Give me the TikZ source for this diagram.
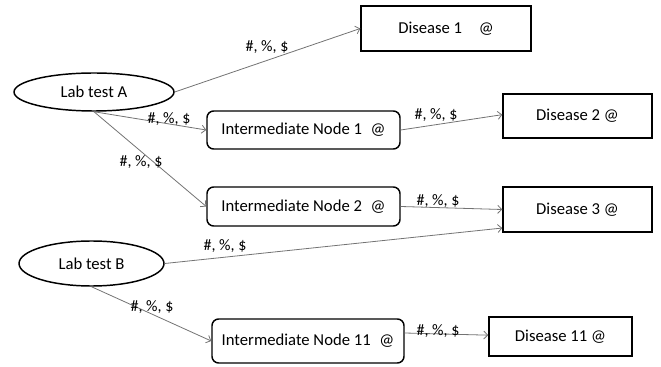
\documentclass[tikz,border=0pt]{standalone}
\usepackage{fontspec}
\setmainfont{Carlito}
\usetikzlibrary{shapes.geometric,arrows.meta}
\begin{document}
\begin{tikzpicture}[x=0.75pt,y=-0.75pt,
  every node/.style={font=\fontsize{12.5pt}{14pt}\selectfont, inner sep=0pt},
  ellbox/.style={ellipse, draw=black, line width=1.1pt},
  disbox/.style={rectangle, draw=black, line width=1.1pt},
  intbox/.style={rectangle, rounded corners=5pt, draw=black, line width=1.1pt, minimum width=193*0.75pt},
  conn/.style={draw=black!55, line width=0.6pt, -{Straight Barb[length=3pt,width=6pt]}},
  lbl/.style={text=black, font=\fontsize{12pt}{14pt}\selectfont}]
\useasboundingbox (0,0) rectangle (661,367);
% nodes
\node[ellbox, minimum width=160*0.75pt, minimum height=38*0.75pt] (A) at (94,92) {Lab test A};
\node[ellbox, minimum width=145*0.75pt, minimum height=45*0.75pt] (B) at (91.5,263.5) {Lab test B};
\node[disbox, minimum width=170*0.75pt, minimum height=45*0.75pt] (D1) at (446,28.5) {Disease 1\hspace{12.5pt}@};
\node[disbox, minimum width=149*0.75pt, minimum height=44*0.75pt] (D2) at (577.5,116) {Disease 2 @};
\node[disbox, minimum width=149*0.75pt, minimum height=45*0.75pt] (D3) at (577.5,209.5) {Disease 3 @};
\node[disbox, minimum width=143*0.75pt, minimum height=39*0.75pt] (D11) at (560.5,336.5) {Disease 11 @};
\node[intbox, minimum height=38*0.75pt] (I1) at (303.5,130) {Intermediate Node 1\hspace{6.5pt}@};
\node[intbox, minimum height=39*0.75pt] (I2) at (303.5,206.5) {Intermediate Node 2\hspace{6.5pt}@};
\node[intbox, minimum width=192*0.75pt, minimum height=44*0.75pt] (I11) at (308,341) {Intermediate Node 11\hspace{6.5pt}@};
% connectors
\draw[conn] (A.east) -- (D1.west);
\draw[conn] (A.south) -- (I1.west);
\draw[conn] (A.south) -- (I2.west);
\draw[conn] (I1.east) -- ([yshift=1pt]D2.west);
\draw[conn] (I2.east) -- (D3.west);
\draw[conn] (B.east) -- ([yshift=-13.9pt]D3.west);
\draw[conn] (B.south) -- (I11.west);
\draw[conn] ([yshift=6pt]I11.east) -- ([yshift=1pt]D11.west);
% labels
\node[lbl] (l1) at (267,47) {\#, \%, \$};
\node[lbl] (l2) at (169,119) {\#, \%, \$};
\node[lbl] (l3) at (141,162) {\#, \%, \$};
\node[lbl] (l4) at (436,115) {\#, \%, \$};
\node[lbl] (l5) at (438,201) {\#, \%, \$};
\node[lbl] (l6) at (225,246) {\#, \%, \$};
\node[lbl] (l7) at (152,307) {\#, \%, \$};
\node[lbl] (l8) at (438,331) {\#, \%, \$};
\end{tikzpicture}
\end{document}
